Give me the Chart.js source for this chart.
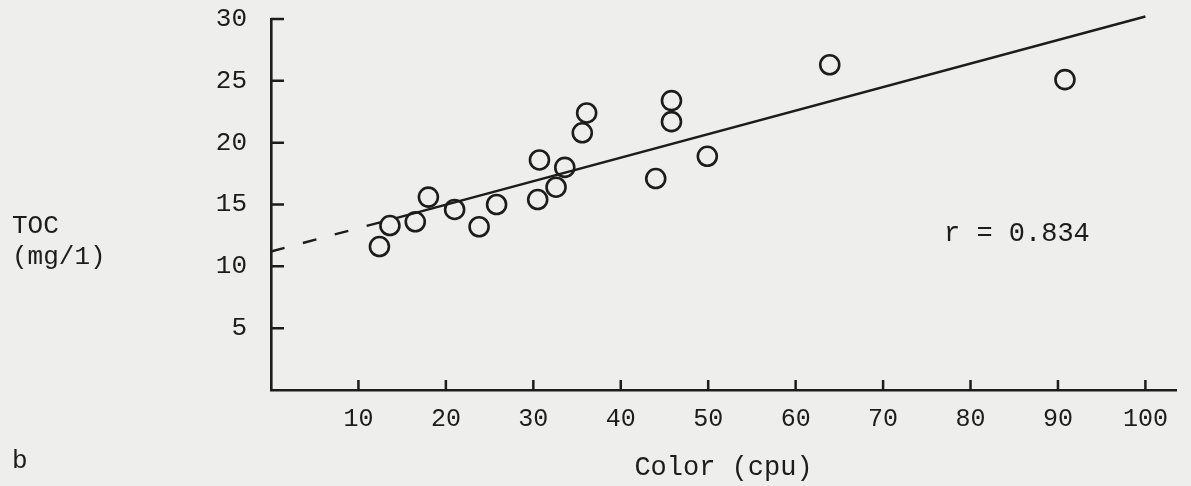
<!DOCTYPE html>
<html>
<head>
<meta charset="utf-8">
<script src="https://cdn.jsdelivr.net/npm/chart.js@4"></script>
<style>
  html, body { margin: 0; padding: 0; background: #eeeeec; }
  #wrap { width: 1191px; height: 486px; }
</style>
</head>
<body>
<div id="wrap"><canvas id="chart" width="1191" height="486"></canvas></div>
<script>
const colorX = [12.4, 13.6, 16.5, 18.0, 21.0, 23.8, 25.8, 30.5, 30.7, 32.6, 33.6, 35.6, 36.1, 44.0, 45.8, 45.8, 49.9, 63.9, 90.8];
const tocY   = [11.6, 13.3, 13.6, 15.6, 14.6, 13.2, 15.0, 15.4, 18.6, 16.4, 18.0, 20.8, 22.4, 17.1, 21.7, 23.4, 18.9, 26.3, 25.1];

// Regression line: dashed (extrapolated) part, then solid part
const dashX = [0, 14.3];
const dashY = [11.2, 13.9];
const fitX  = [14.3, 100];
const fitY  = [13.9, 30.2];

const xTicks = [10, 20, 30, 40, 50, 60, 70, 80, 90, 100];
const yTicks = [5, 10, 15, 20, 25, 30];

const ink = '#1c1c1c';
const mono = '"Liberation Mono", "DejaVu Sans Mono", monospace';

const pts = (xs, ys) => xs.map((x, i) => ({ x: x, y: ys[i] }));

// tick marks drawn inward from the axes, plus the free-floating labels
const extras = {
  id: 'extras',
  afterDraw(chart) {
    const { ctx, scales: { x, y }, chartArea: a } = chart;
    ctx.save();
    ctx.strokeStyle = ink;
    ctx.lineWidth = 2.5;
    ctx.beginPath();
    xTicks.forEach(v => {
      const px = x.getPixelForValue(v);
      ctx.moveTo(px, a.bottom);
      ctx.lineTo(px, a.bottom - 10);
    });
    yTicks.forEach(v => {
      const py = y.getPixelForValue(v);
      ctx.moveTo(a.left, py);
      ctx.lineTo(a.left + 13, py);
    });
    ctx.stroke();

    ctx.fillStyle = ink;
    ctx.font = '26px ' + mono;
    ctx.textBaseline = 'middle';
    ctx.textAlign = 'left';
    ctx.fillText('TOC', 12, 226);
    ctx.fillText('(mg/1)', 12, 257);
    ctx.fillText('b', 12, 461);
    ctx.font = '27px ' + mono;
    ctx.fillText('r = 0.834', 944, 234);
    ctx.restore();
  }
};

new Chart(document.getElementById('chart').getContext('2d'), {
  type: 'scatter',
  data: {
    datasets: [
      {
        label: 'TOC',
        data: pts(colorX, tocY),
        pointStyle: 'circle',
        pointRadius: 9.5,
        pointBorderWidth: 2.6,
        pointBorderColor: ink,
        pointBackgroundColor: 'rgba(0,0,0,0)',
        showLine: false
      },
      {
        label: 'fit',
        data: pts(fitX, fitY),
        showLine: true,
        borderColor: ink,
        borderWidth: 2.4,
        pointRadius: 0,
        clip: false
      },
      {
        label: 'fit (extrapolated)',
        data: pts(dashX, dashY),
        showLine: true,
        borderColor: ink,
        borderWidth: 2.4,
        borderDash: [14, 19],
        pointRadius: 0,
        clip: false
      }
    ]
  },
  options: {
    responsive: false,
    animation: false,
    layout: { autoPadding: false, padding: { top: 19, right: 15, left: 0, bottom: 0 } },
    plugins: { legend: { display: false }, tooltip: { enabled: false } },
    scales: {
      x: {
        type: 'linear',
        min: 0,
        max: 103.5,
        afterBuildTicks: s => { s.ticks = xTicks.map(v => ({ value: v })); },
        afterFit: s => { s.height = 96; },
        grid: { display: false, drawTicks: false },
        border: { display: true, color: ink, width: 2.6 },
        ticks: { color: ink, font: { family: mono, size: 25 }, padding: 14, maxRotation: 0 },
        title: {
          display: true,
          text: 'Color (cpu)',
          color: ink,
          font: { family: mono, size: 27 },
          padding: { top: 0, bottom: 2 }
        }
      },
      y: {
        type: 'linear',
        min: 0,
        max: 30,
        afterBuildTicks: s => { s.ticks = yTicks.map(v => ({ value: v })); },
        // fixed width; drop the label-padding that Chart.js reserves above the axis
        afterFit: s => { s.width = 271; s.paddingTop = 0; s.paddingBottom = 0; },
        grid: { display: false, drawTicks: false },
        border: { display: true, color: ink, width: 2.6 },
        ticks: { color: ink, font: { family: mono, size: 26 }, padding: 24 }
      }
    }
  },
  plugins: [extras]
});
</script>
</body>
</html>
